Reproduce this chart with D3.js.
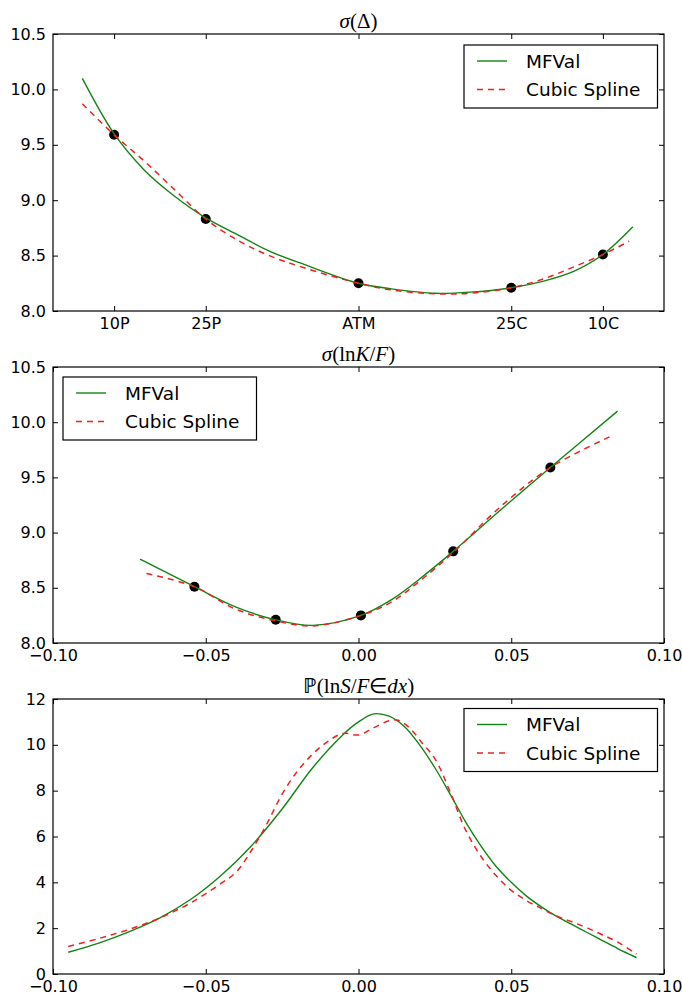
<!DOCTYPE html>
<html>
<head>
<meta charset="utf-8">
<script src="https://cdn.jsdelivr.net/npm/d3@7"></script>
<style>
  body { margin: 0; background: #fff; }
  .tick text { font-family: "DejaVu Sans", sans-serif; font-size: 16px; fill: #000; }
  .tick line { stroke: #000; stroke-width: 1; }
  .legendText { font-family: "DejaVu Sans", sans-serif; font-size: 18.5px; fill: #000; }
  .title { font-family: "Liberation Serif", serif; font-size: 21px; fill: #000; }
</style>
</head>
<body>
<div id="chart"></div>
<script>
// pillar quotes
var pillarLabels = ["10P", "25P", "ATM", "25C", "10C"];
var pillarDelta = [-0.9, -0.75, -0.5, -0.25, -0.1];
var pillarLogK = [0.0628, 0.031, 0.0008, -0.0271, -0.0537];
var pillarVol = [9.59, 8.83, 8.25, 8.21, 8.51];

// sigma(delta)
var deltaGrid = [-0.952, -0.9, -0.852, -0.802, -0.75, -0.695, -0.646, -0.589, -0.5, -0.446, -0.375, -0.318, -0.25, -0.197, -0.147, -0.1, -0.051];
var mfvalDelta = [10.10, 9.60, 9.28, 9.04, 8.84, 8.68, 8.54, 8.42, 8.25, 8.20, 8.16, 8.17, 8.21, 8.27, 8.36, 8.51, 8.76];
var splineDeltaGrid = [-0.952, -0.9, -0.852, -0.802, -0.75, -0.695, -0.646, -0.589, -0.5, -0.446, -0.375, -0.318, -0.25, -0.197, -0.147, -0.1, -0.057];
var splineDelta = [9.87, 9.59, 9.36, 9.10, 8.83, 8.63, 8.50, 8.39, 8.25, 8.19, 8.155, 8.16, 8.21, 8.29, 8.40, 8.51, 8.63];

// sigma(ln K/F)
var logKGrid = [-0.0715, -0.0537, -0.0405, -0.0271, -0.0149, 0.0008, 0.0107, 0.02, 0.031, 0.0463, 0.0628, 0.0848];
var mfvalLogK = [8.76, 8.51, 8.33, 8.21, 8.16, 8.25, 8.39, 8.58, 8.83, 9.20, 9.59, 10.10];
var splineLogKGrid = [-0.0694, -0.0537, -0.0405, -0.0271, -0.0149, 0.0008, 0.0107, 0.02, 0.031, 0.0463, 0.0628, 0.0828];
var splineLogK = [8.63, 8.51, 8.31, 8.20, 8.155, 8.25, 8.37, 8.56, 8.82, 9.23, 9.59, 9.875];

// density of ln S/F
var densGrid = [-0.095, -0.085, -0.075, -0.065, -0.055, -0.045, -0.035, -0.025, -0.015, -0.005, 0.0, 0.005, 0.01, 0.015, 0.02, 0.025, 0.03, 0.035, 0.04, 0.045, 0.05, 0.055, 0.06, 0.065, 0.07, 0.075, 0.08, 0.085, 0.091];
var mfvalDens = [0.95, 1.35, 1.85, 2.45, 3.25, 4.3, 5.6, 7.2, 9.0, 10.45, 11.0, 11.35, 11.25, 10.8, 10.0, 9.0, 7.85, 6.65, 5.6, 4.7, 4.0, 3.4, 2.92, 2.5, 2.15, 1.8, 1.45, 1.1, 0.72];
var splineDensGrid = [-0.095, -0.085, -0.075, -0.065, -0.055, -0.045, -0.04, -0.035, -0.03, -0.025, -0.02, -0.015, -0.01, -0.005, 0.0, 0.005, 0.01, 0.013, 0.017, 0.021, 0.025, 0.03, 0.035, 0.04, 0.045, 0.05, 0.055, 0.06, 0.065, 0.07, 0.075, 0.08, 0.085, 0.091];
var splineDens = [1.2, 1.55, 1.95, 2.45, 3.1, 3.95, 4.45, 5.4, 6.55, 7.85, 8.85, 9.6, 10.15, 10.5, 10.43, 10.75, 11.05, 11.07, 10.7, 10.05, 9.4, 7.95, 6.3, 5.15, 4.3, 3.65, 3.2, 2.85, 2.52, 2.27, 2.0, 1.7, 1.38, 0.87];

var width = 682, height = 996;
var left = 53, right = 664;

var svg = d3.select("#chart").append("svg")
    .attr("width", width)
    .attr("height", height);

svg.append("rect").attr("width", width).attr("height", height).attr("fill", "#fff");

function zip(xs, ys) {
    return xs.map(function(x, i) { return [x, ys[i]]; });
}

function drawPanel(opt) {
    var x = d3.scaleLinear().domain(opt.xDomain).range([left, right]);
    var y = d3.scaleLinear().domain(opt.yDomain).range([opt.bottom, opt.top]);
    var g = svg.append("g");

    var xAxis = d3.axisBottom(x).tickValues(opt.xTicks).tickSize(-5).tickPadding(7).tickFormat(opt.xFormat);
    var xTop = d3.axisTop(x).tickValues(opt.xTicks).tickSize(-5).tickFormat("");
    var yAxis = d3.axisLeft(y).tickValues(opt.yTicks).tickSize(-5).tickPadding(7).tickFormat(opt.yFormat);
    var yRight = d3.axisRight(y).tickValues(opt.yTicks).tickSize(-5).tickFormat("");

    g.append("g").attr("transform", "translate(0," + opt.bottom + ")").call(xAxis);
    g.append("g").attr("transform", "translate(0," + opt.top + ")").call(xTop);
    g.append("g").attr("transform", "translate(" + left + ",0)").call(yAxis);
    g.append("g").attr("transform", "translate(" + right + ",0)").call(yRight);
    g.selectAll(".domain").remove();
    g.selectAll(".tick text").attr("fill", "#000");

    var line = d3.line()
        .x(function(d) { return x(d[0]); })
        .y(function(d) { return y(d[1]); })
        .curve(d3.curveCatmullRom.alpha(0.5));

    if (opt.points) {
        g.selectAll(".dot")
            .data(opt.points)
            .enter().append("circle")
            .attr("cx", function(d) { return x(d[0]); })
            .attr("cy", function(d) { return y(d[1]); })
            .attr("r", 5)
            .attr("fill", "#000");
    }

    g.append("path")
        .datum(opt.green)
        .attr("d", line)
        .attr("fill", "none")
        .attr("stroke", "#128412")
        .attr("stroke-width", 1.4);

    g.append("path")
        .datum(opt.red)
        .attr("d", line)
        .attr("fill", "none")
        .attr("stroke", "#f02020")
        .attr("stroke-width", 1.5)
        .attr("stroke-dasharray", "6,5");

    g.append("rect")
        .attr("x", left)
        .attr("y", opt.top)
        .attr("width", right - left)
        .attr("height", opt.bottom - opt.top)
        .attr("fill", "none")
        .attr("stroke", "#000")
        .attr("stroke-width", 1.2);

    // title
    var t = g.append("text")
        .attr("class", "title")
        .attr("x", (left + right) / 2)
        .attr("y", opt.top - 6)
        .attr("text-anchor", "middle");
    opt.title.forEach(function(p) {
        t.append("tspan").attr("font-style", p[1] ? "italic" : "normal").text(p[0]);
    });

    // legend
    var lg = g.append("g").attr("transform", "translate(" + (left + opt.legend[0]) + "," + (opt.top + opt.legend[1]) + ")");
    lg.append("rect")
        .attr("width", 193.5)
        .attr("height", 63)
        .attr("fill", "#fff")
        .attr("stroke", "#000")
        .attr("stroke-width", 1.2);
    var items = [["MFVal", "#128412", null, 1.4], ["Cubic Spline", "#f02020", "6,5", 1.5]];
    items.forEach(function(it, i) {
        var yy = 16 + i * 28.5;
        lg.append("line")
            .attr("x1", 13).attr("x2", 43)
            .attr("y1", yy).attr("y2", yy)
            .attr("stroke", it[1])
            .attr("stroke-width", it[3])
            .attr("stroke-dasharray", it[2]);
        lg.append("text")
            .attr("class", "legendText")
            .attr("x", 62)
            .attr("y", yy)
            .attr("dy", "0.36em")
            .text(it[0]);
    });
}

drawPanel({
    top: 34, bottom: 311,
    xDomain: [-1, 0], yDomain: [8, 10.5],
    xTicks: pillarDelta, xFormat: function(d, i) { return pillarLabels[i]; },
    yTicks: [8, 8.5, 9, 9.5, 10, 10.5], yFormat: d3.format(".1f"),
    points: zip(pillarDelta, pillarVol),
    green: zip(deltaGrid, mfvalDelta),
    red: zip(splineDeltaGrid, splineDelta),
    title: [["σ", true], ["(Δ)", false]],
    legend: [411, 11]
});

drawPanel({
    top: 367, bottom: 643,
    xDomain: [-0.1, 0.1], yDomain: [8, 10.5],
    xTicks: [-0.1, -0.05, 0, 0.05, 0.1], xFormat: d3.format(".2f"),
    yTicks: [8, 8.5, 9, 9.5, 10, 10.5], yFormat: d3.format(".1f"),
    points: zip(pillarLogK, pillarVol),
    green: zip(logKGrid, mfvalLogK),
    red: zip(splineLogKGrid, splineLogK),
    title: [["σ", true], ["(ln", false], ["K", true], ["/", false], ["F", true], [")", false]],
    legend: [10, 10]
});

drawPanel({
    top: 699, bottom: 974,
    xDomain: [-0.1, 0.1], yDomain: [0, 12],
    xTicks: [-0.1, -0.05, 0, 0.05, 0.1], xFormat: d3.format(".2f"),
    yTicks: [0, 2, 4, 6, 8, 10, 12], yFormat: d3.format("d"),
    points: null,
    green: zip(densGrid, mfvalDens),
    red: zip(splineDensGrid, splineDens),
    title: [["ℙ(ln", false], ["S", true], ["/", false], ["F", true], ["∈", false], ["dx", true], [")", false]],
    legend: [411, 9.5]
});
</script>
</body>
</html>
